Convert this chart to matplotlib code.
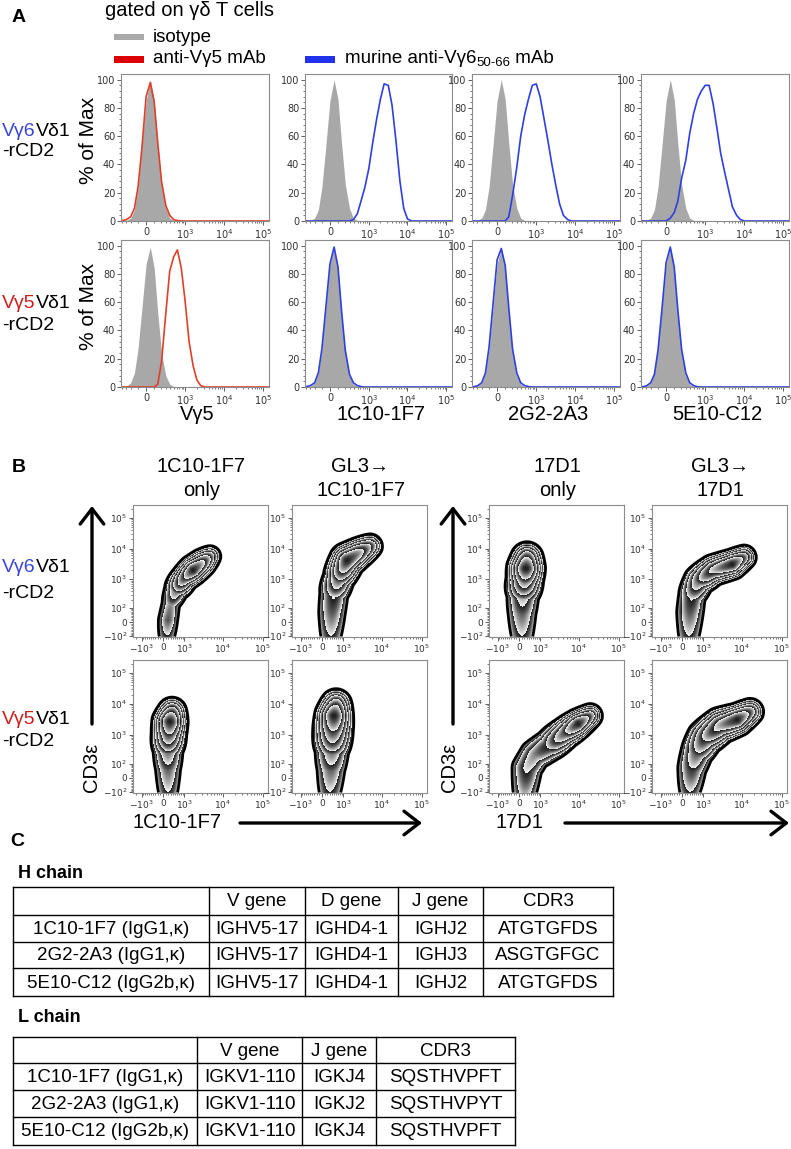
import numpy as np
import matplotlib
matplotlib.use("Agg")
import matplotlib.pyplot as plt
from matplotlib.patches import Rectangle
from matplotlib.colors import LinearSegmentedColormap

plt.rcParams["font.family"] = ["Liberation Sans", "DejaVu Sans"]

# ============================================================
# Data - panel A histograms (% of max), sampled on hist_x
# ============================================================
hist_x = [-380, -290, -210, -150, -100, -50, 0, 50, 100, 150, 210, 290, 380, 490,
          620, 790, 1000, 1260, 1600, 2000, 2500, 3200, 4000, 5000, 6400, 8000,
          10000, 12600, 16000, 20000, 25000, 32000, 40000, 140000]

iso_vg6 = [0, 0.5, 2, 8, 24, 53, 85, 100, 86, 55, 26, 9, 2, 0.5, 0, 0, 0,
           0, 0, 0, 0, 0, 0, 0, 0, 0, 0, 0, 0, 0, 0, 0, 0, 0]
iso_vg5 = [0, 0.6, 3, 10, 27, 56, 87, 99, 84, 52, 24, 8, 2, 0.4, 0, 0, 0,
           0, 0, 0, 0, 0, 0, 0, 0, 0, 0, 0, 0, 0, 0, 0, 0, 0]

vg6_anti_vg5 = [0.3, 1, 3, 9, 24, 52, 88, 98, 84, 55, 28, 11, 4, 1, 0.3, 0, 0,
                0, 0, 0, 0, 0, 0, 0, 0, 0, 0, 0, 0, 0, 0, 0, 0, 0]
vg6_1c10 = [0, 0, 0, 0, 0, 0, 0, 0, 0, 0, 0, 0, 1, 5, 14, 24, 37,
            55, 72, 86, 97, 96, 82, 58, 28, 9, 1.5, 0, 0, 0, 0, 0, 0, 0]
vg6_2g2 = [0, 0, 0, 0, 0, 0, 0, 0, 0, 3, 18, 38, 60, 75, 86, 96, 97,
           88, 72, 57, 41, 25, 12, 4, 1, 0, 0, 0, 0, 0, 0, 0, 0, 0]
vg6_5e10 = [0, 0, 0, 0, 0, 0, 0, 2, 6, 14, 30, 43, 62, 76, 86, 92, 96,
            96, 83, 66, 48, 34, 22, 10, 4, 1, 0, 0, 0, 0, 0, 0, 0, 0]

vg5_anti_vg5 = [0, 0, 0, 0, 0, 0, 0, 0, 0, 2, 18, 52, 82, 92, 97, 84, 60,
                32, 15, 5, 1, 0, 0, 0, 0, 0, 0, 0, 0, 0, 0, 0, 0, 0]
vg5_1c10 = [0.3, 1, 3, 10, 27, 56, 87, 99, 85, 54, 26, 9, 3, 1, 0.3, 0, 0,
            0, 0, 0, 0, 0, 0, 0, 0, 0, 0, 0, 0, 0, 0, 0, 0, 0]
vg5_2g2 = [0.2, 0.8, 3, 10, 28, 58, 90, 98, 86, 56, 27, 10, 3, 1, 0.3, 0, 0,
           0, 0, 0, 0, 0, 0, 0, 0, 0, 0, 0, 0, 0, 0, 0, 0, 0]
vg5_5e10 = [0.2, 0.8, 3, 9, 26, 55, 88, 99, 85, 55, 27, 10, 3, 1, 0.2, 0, 0,
            0, 0, 0, 0, 0, 0, 0, 0, 0, 0, 0, 0, 0, 0, 0, 0, 0]

hist_xlabels = ["V\u03b35", "1C10-1F7", "2G2-2A3", "5E10-C12"]

# ============================================================
# Data - panel B density ridges (x, y fluorescence; weight; spread px)
# ============================================================
z_vg6_1c10_x = [150, 188, 307, 578, 1051, 1755, 3000, 4800]
z_vg6_1c10_y = [-75, 12, 158, 501, 1150, 1970, 3340, 5500]
z_vg6_1c10_w = [0.04, 0.06, 0.05, 0.12, 0.5, 1.0, 0.6, 0.2]
z_vg6_1c10_s = [7, 6.5, 6.5, 6.5, 5.5, 5.5, 5.5, 5]

z_vg6_gl3_1c10_x = [350, 392, 482, 735, 1285, 2522, 5100]
z_vg6_gl3_1c10_y = [-75, 65, 370, 1150, 4080, 6900, 11800]
z_vg6_gl3_1c10_w = [0.04, 0.06, 0.08, 0.25, 1.0, 0.7, 0.25]
z_vg6_gl3_1c10_s = [9, 9, 8.5, 7, 6.5, 6, 5.5]

z_vg6_17d1_x = [112, 112, 150, 227, 265, 307]
z_vg6_17d1_y = [-75, 65, 370, 1070, 2250, 4800]
z_vg6_17d1_w = [0.04, 0.06, 0.1, 0.45, 1.0, 0.5]
z_vg6_17d1_s = [9.5, 9.5, 9, 7.5, 7, 6.5]

z_vg6_gl3_17d1_x = [265, 307, 392, 735, 1860, 5720, 11400]
z_vg6_gl3_17d1_y = [-75, 65, 300, 920, 1970, 3050, 5160]
z_vg6_gl3_17d1_w = [0.04, 0.06, 0.08, 0.22, 0.6, 1.0, 0.4]
z_vg6_gl3_17d1_s = [9, 9, 8, 7, 6, 5.5, 5]

z_vg5_1c10_x = [188, 188, 188, 227, 265, 350]
z_vg5_1c10_y = [-75, 65, 370, 1150, 2640, 5500]
z_vg5_1c10_w = [0.04, 0.06, 0.12, 0.5, 1.0, 0.4]
z_vg5_1c10_s = [8.5, 8.5, 8, 7, 6.5, 6]

z_vg5_gl3_1c10_x = [307, 350, 392, 437, 482, 578]
z_vg5_gl3_1c10_y = [-75, 65, 370, 1460, 4080, 9400]
z_vg5_gl3_1c10_w = [0.04, 0.06, 0.12, 0.5, 1.0, 0.4]
z_vg5_gl3_1c10_s = [9.5, 9.5, 9, 8, 7, 6.5]

z_vg5_17d1_x = [227, 307, 682, 1860, 4550, 9650, 19300]
z_vg5_17d1_y = [-75, 65, 218, 460, 1150, 2250, 4080]
z_vg5_17d1_w = [0.05, 0.08, 0.1, 0.15, 0.45, 1.0, 0.4]
z_vg5_17d1_s = [9, 9, 8.5, 8, 6.5, 5.5, 5]

z_vg5_gl3_17d1_x = [307, 392, 630, 1125, 2840, 7700, 16200]
z_vg5_gl3_17d1_y = [-75, 65, 270, 798, 1970, 3050, 5500]
z_vg5_gl3_17d1_w = [0.04, 0.07, 0.12, 0.28, 0.65, 1.0, 0.4]
z_vg5_gl3_17d1_s = [9, 9, 8.5, 8, 7, 6, 5.5]

b_titles = [("1C10-1F7", "only"), ("GL3\u2192", "1C10-1F7"),
            ("17D1", "only"), ("GL3\u2192", "17D1")]

# ============================================================
# Data - panel C tables
# ============================================================
clones = ["1C10-1F7 (IgG1,\u03ba)", "2G2-2A3 (IgG1,\u03ba)", "5E10-C12 (IgG2b,\u03ba)"]
h_header = ["", "V gene", "D gene", "J gene", "CDR3"]
h_v = ["IGHV5-17", "IGHV5-17", "IGHV5-17"]
h_d = ["IGHD4-1", "IGHD4-1", "IGHD4-1"]
h_j = ["IGHJ2", "IGHJ3", "IGHJ2"]
h_cdr3 = ["ATGTGFDS", "ASGTGFGC", "ATGTGFDS"]
l_header = ["", "V gene", "J gene", "CDR3"]
l_v = ["IGKV1-110", "IGKV1-110", "IGKV1-110"]
l_j = ["IGKJ4", "IGKJ2", "IGKJ4"]
l_cdr3 = ["SQSTHVPFT", "SQSTHVPYT", "SQSTHVPFT"]

# ============================================================
# Layout (pixels)
# ============================================================
W, H = 791, 1149
A_COLS = [(121, 269), (305, 452), (472, 620), (641, 789)]
A_ROWS = [(74, 221), (240, 387)]
B_COLS = [(133, 268), (292, 427), (489, 624), (652, 787)]
B_ROWS = [(505, 637), (660, 793)]

RED_T = "#cc1f1f"
BLUE_T = "#3a45d4"
RED_L = "#e0402a"
BLUE_L = "#2f3fe0"
GREY_F = "#a8a8a8"
SPINE = "#8c8c8c"
TICKC = "#333333"

fig = plt.figure(figsize=(W / 100, H / 100), dpi=100)
ov = fig.add_axes([0, 0, 1, 1])
ov.set_xlim(0, W)
ov.set_ylim(H, 0)
ov.axis("off")
renderer = fig.canvas.get_renderer()


def frac_box(l, t, r, b):
    return [l / W, 1 - b / H, (r - l) / W, (b - t) / H]


def rich(x, y, parts, size=14, **kw):
    """Consecutive text pieces, each with its own colour / size / y-shift."""
    for part in parts:
        s, c = part[0], part[1]
        sz = part[2] if len(part) > 2 else size
        dy = part[3] if len(part) > 3 else 0
        t = ov.text(x, y + dy, s, color=c, fontsize=sz, ha="left", va="center", **kw)
        x += t.get_window_extent(renderer).width


def style_axes(ax):
    for sp in ax.spines.values():
        sp.set_color(SPINE)
        sp.set_linewidth(0.8)
    ax.tick_params(which="major", length=3, width=0.6, color="#444444", pad=1.2)
    ax.tick_params(which="minor", length=1.6, width=0.5, color="#444444")


# ============================================================
# Panel A
# ============================================================
ov.text(12, 18, "A", fontsize=14, fontweight="bold", ha="left", va="center")
ov.text(105, 11, "gated on \u03b3\u03b4 T cells", fontsize=14.5, ha="left", va="center")
ov.add_patch(Rectangle((114, 33.5), 30, 6.5, color="#aaaaaa", lw=0))
ov.text(153, 37.5, "isotype", fontsize=13.5, ha="left", va="center")
ov.add_patch(Rectangle((114, 56), 30, 6.5, color="#dd0000", lw=0))
ov.text(153, 58.5, "anti-V\u03b35 mAb", fontsize=13.5, ha="left", va="center")
ov.add_patch(Rectangle((305, 56), 30, 6.5, color="#2233ee", lw=0))
rich(345, 58.5, [("murine anti-V\u03b36", "k", 13.5), ("50-66", "k", 9.5, 5),
                 (" mAb", "k", 13.5)])

a_minor = [-400, -300, -200, -100, 100, 200, 300, 400, 500, 600, 700, 800, 900,
           2000, 3000, 4000, 5000, 6000, 7000, 8000, 9000,
           20000, 30000, 40000, 50000, 60000, 70000, 80000, 90000]

hist_rows = [
    (iso_vg6, [(vg6_anti_vg5, RED_L), (vg6_1c10, BLUE_L), (vg6_2g2, BLUE_L), (vg6_5e10, BLUE_L)]),
    (iso_vg5, [(vg5_anti_vg5, RED_L), (vg5_1c10, BLUE_L), (vg5_2g2, BLUE_L), (vg5_5e10, BLUE_L)]),
]
for r, (iso, curves) in enumerate(hist_rows):
    t, b = A_ROWS[r]
    for c, (curve, col) in enumerate(curves):
        l, rr = A_COLS[c]
        ax = fig.add_axes(frac_box(l, t, rr, b))
        ax.set_xscale("asinh", linear_width=202)
        ax.fill_between(hist_x, 0, iso, color=GREY_F, lw=0, zorder=1)
        ax.plot(hist_x, curve, color=col, lw=1.2, zorder=2)
        ax.set_xlim(-420, 140000)
        ax.set_ylim(0, 104)
        ax.set_xticks([0, 1000, 10000, 100000], ["0", "$10^3$", "$10^4$", "$10^5$"],
                      fontsize=7, color=TICKC, fontfamily="DejaVu Sans")
        ax.set_xticks(a_minor, minor=True)
        ax.set_yticks([0, 20, 40, 60, 80, 100], ["0", "20", "40", "60", "80", "100"],
                      fontsize=7, color=TICKC, fontfamily="DejaVu Sans")
        ax.set_yticks(np.arange(0, 101, 4), minor=True)
        style_axes(ax)
    ov.text(88, (t + b) / 2 - 7, "% of Max", rotation=90, fontsize=15,
            ha="center", va="center")

for c, lab in enumerate(hist_xlabels):
    l, rr = A_COLS[c]
    ov.text((l + rr) / 2 + 2, 414, lab, fontsize=14.5, ha="center", va="center")

rich(2, 131, [("V\u03b36", BLUE_T), ("V\u03b41", "k")], size=14)
ov.text(2, 152, "-rCD2", fontsize=14, ha="left", va="center")
rich(2, 303, [("V\u03b35", RED_T), ("V\u03b41", "k")], size=14)
ov.text(2, 325, "-rCD2", fontsize=14, ha="left", va="center")

# ============================================================
# Panel B
# ============================================================
zebra_cmap = LinearSegmentedColormap.from_list(
    "zebra", ["#1e1e1e", "#5a5a5a", "#a6a6a6", "#f6f6f6"])
b_xminor = [-1500, -900, -800, -700, -600, -500, -400, -300, -200, -100,
            100, 200, 300, 400, 500, 600, 700, 800, 900,
            2000, 3000, 4000, 5000, 6000, 7000, 8000, 9000,
            20000, 30000, 40000, 50000, 60000, 70000, 80000, 90000]
b_yminor = [-90, -80, -70, -60, -50, -40, -30, -20, -10, 10, 20, 30, 40, 50, 60,
            70, 80, 90, 200, 300, 400, 500, 600, 700, 800, 900,
            2000, 3000, 4000, 5000, 6000, 7000, 8000, 9000,
            20000, 30000, 40000, 50000, 60000, 70000, 80000, 90000, 200000]


def zebra(ax, rx, ry, rw, rs, lo=0.02, nb=6):
    bb = ax.get_window_extent(renderer)
    nx, ny = int(round(bb.width)), int(round(bb.height))
    ex_px = np.linspace(bb.x0, bb.x1, nx + 1)
    ey_px = np.linspace(bb.y0, bb.y1, ny + 1)
    inv = ax.transData.inverted()
    ex = inv.transform(np.column_stack([ex_px, np.full(nx + 1, bb.y0 + 2)]))[:, 0]
    ey = inv.transform(np.column_stack([np.full(ny + 1, bb.x0 + 2), ey_px]))[:, 1]
    cx_px = 0.5 * (ex_px[1:] + ex_px[:-1])
    cy_px = 0.5 * (ey_px[1:] + ey_px[:-1])
    cx = inv.transform(np.column_stack([cx_px, np.full(nx, bb.y0 + 2)]))[:, 0]
    cy = inv.transform(np.column_stack([np.full(ny, bb.x0 + 2), cy_px]))[:, 1]

    P = ax.transData.transform(np.column_stack([rx, ry]))
    rw = np.asarray(rw, float)
    rs = np.asarray(rs, float)
    f = np.linspace(0, 1, 16)[:-1]
    px, py, pw, ps = [], [], [], []
    for i in range(len(P) - 1):
        px.append(P[i, 0] + f * (P[i + 1, 0] - P[i, 0]))
        py.append(P[i, 1] + f * (P[i + 1, 1] - P[i, 1]))
        pw.append(rw[i] + f * (rw[i + 1] - rw[i]))
        ps.append(rs[i] + f * (rs[i + 1] - rs[i]))
    px = np.concatenate(px + [P[-1:, 0]])
    py = np.concatenate(py + [P[-1:, 1]])
    pw = np.concatenate(pw + [rw[-1:]])
    ps = np.concatenate(ps + [rs[-1:]])

    GX, GY = np.meshgrid(cx_px, cy_px)
    d2 = (GX[..., None] - px) ** 2 + (GY[..., None] - py) ** 2
    D = (pw * np.exp(-d2 / (2 * ps ** 2))).max(axis=-1)

    g = np.log(np.maximum(D, 1e-12) / lo) / np.log(1 / lo) * nb
    shade = np.ma.masked_where(D < lo, 1 - (g - np.floor(g)))
    ax.pcolormesh(ex, ey, shade, cmap=zebra_cmap, vmin=0, vmax=1,
                  shading="flat", rasterized=True, zorder=1)
    ax.contour(cx, cy, D, levels=[lo], colors="k", linewidths=2.0, zorder=2)


zebra_rows = [
    [(z_vg6_1c10_x, z_vg6_1c10_y, z_vg6_1c10_w, z_vg6_1c10_s),
     (z_vg6_gl3_1c10_x, z_vg6_gl3_1c10_y, z_vg6_gl3_1c10_w, z_vg6_gl3_1c10_s),
     (z_vg6_17d1_x, z_vg6_17d1_y, z_vg6_17d1_w, z_vg6_17d1_s),
     (z_vg6_gl3_17d1_x, z_vg6_gl3_17d1_y, z_vg6_gl3_17d1_w, z_vg6_gl3_17d1_s)],
    [(z_vg5_1c10_x, z_vg5_1c10_y, z_vg5_1c10_w, z_vg5_1c10_s),
     (z_vg5_gl3_1c10_x, z_vg5_gl3_1c10_y, z_vg5_gl3_1c10_w, z_vg5_gl3_1c10_s),
     (z_vg5_17d1_x, z_vg5_17d1_y, z_vg5_17d1_w, z_vg5_17d1_s),
     (z_vg5_gl3_17d1_x, z_vg5_gl3_17d1_y, z_vg5_gl3_17d1_w, z_vg5_gl3_17d1_s)],
]
for r, row in enumerate(zebra_rows):
    t, b = B_ROWS[r]
    for c, (rx, ry, rw, rs) in enumerate(row):
        l, rr = B_COLS[c]
        ax = fig.add_axes(frac_box(l, t, rr, b))
        ax.set_xscale("asinh", linear_width=645)
        ax.set_yscale("asinh", linear_width=80)
        ax.set_xlim(-1755, 135000)
        ax.set_ylim(-110, 262144)
        zebra(ax, rx, ry, rw, rs)
        ax.set_xticks([-1000, 0, 1000, 10000, 100000],
                      ["$-10^3$", "0", "$10^3$", "$10^4$", "$10^5$"],
                      fontsize=6.5, color=TICKC, fontfamily="DejaVu Sans")
        ax.set_xticks(b_xminor, minor=True)
        ax.set_yticks([-100, 0, 100, 1000, 10000, 100000],
                      ["$-10^2$", "0", "$10^2$", "$10^3$", "$10^4$", "$10^5$"],
                      fontsize=6.5, color=TICKC, fontfamily="DejaVu Sans")
        ax.set_yticks(b_yminor, minor=True)
        style_axes(ax)

ov.text(12, 468, "B", fontsize=14, fontweight="bold", ha="left", va="center")
for c, (l1, l2) in enumerate(b_titles):
    l, rr = B_COLS[c]
    xc = (l + rr) / 2 + 1
    ov.text(xc, 467, l1, fontsize=14.5, ha="center", va="center")
    ov.text(xc, 491, l2, fontsize=14.5, ha="center", va="center")

rich(2, 568, [("V\u03b36", BLUE_T), ("V\u03b41", "k")], size=14)
ov.text(2, 593, "-rCD2", fontsize=14, ha="left", va="center")
rich(2, 720, [("V\u03b35", RED_T), ("V\u03b41", "k")], size=14)
ov.text(2, 742, "-rCD2", fontsize=14, ha="left", va="center")

arrow_kw = dict(arrowstyle="->,head_length=1.1,head_width=0.85", lw=2.4,
                color="k", shrinkA=0, shrinkB=0)
for xa, xt in ((92, 92), (453, 450)):
    ov.annotate("", xy=(xa, 506), xytext=(xa, 724), arrowprops=arrow_kw)
    ov.text(xt, 767, "CD3\u03b5", rotation=90, fontsize=14.5, ha="center", va="center")
ov.annotate("", xy=(422, 823), xytext=(240, 823), arrowprops=arrow_kw)
ov.annotate("", xy=(789, 823), xytext=(565, 823), arrowprops=arrow_kw)
ov.text(177, 823, "1C10-1F7", fontsize=14.5, ha="center", va="center")
ov.text(519, 823, "17D1", fontsize=14.5, ha="center", va="center")

# ============================================================
# Panel C tables
# ============================================================
def draw_table(xe, ye, rows, size=13.5):
    for x in xe:
        ov.plot([x, x], [ye[0], ye[-1]], color="k", lw=1.0, solid_capstyle="projecting")
    for y in ye:
        ov.plot([xe[0], xe[-1]], [y, y], color="k", lw=1.0, solid_capstyle="projecting")
    for i, row in enumerate(rows):
        for j, txt in enumerate(row):
            ov.text((xe[j] + xe[j + 1]) / 2, (ye[i] + ye[i + 1]) / 2 + 1, txt,
                    fontsize=size, ha="center", va="center")


ov.text(10, 842, "C", fontsize=14, fontweight="bold", ha="left", va="center")
ov.text(18, 873, "H chain", fontsize=13, fontweight="bold", ha="left", va="center")
h_rows = [h_header] + [[clones[i], h_v[i], h_d[i], h_j[i], h_cdr3[i]] for i in range(3)]
draw_table([13, 209, 305, 398, 483, 613], [887, 915, 942, 968, 996], h_rows)

ov.text(18, 1018, "L chain", fontsize=13, fontweight="bold", ha="left", va="center")
l_rows = [l_header] + [[clones[i], l_v[i], l_j[i], l_cdr3[i]] for i in range(3)]
draw_table([13, 197, 302, 376, 515], [1037, 1063, 1090, 1117, 1145], l_rows)

fig.savefig("out.png", dpi=100)
